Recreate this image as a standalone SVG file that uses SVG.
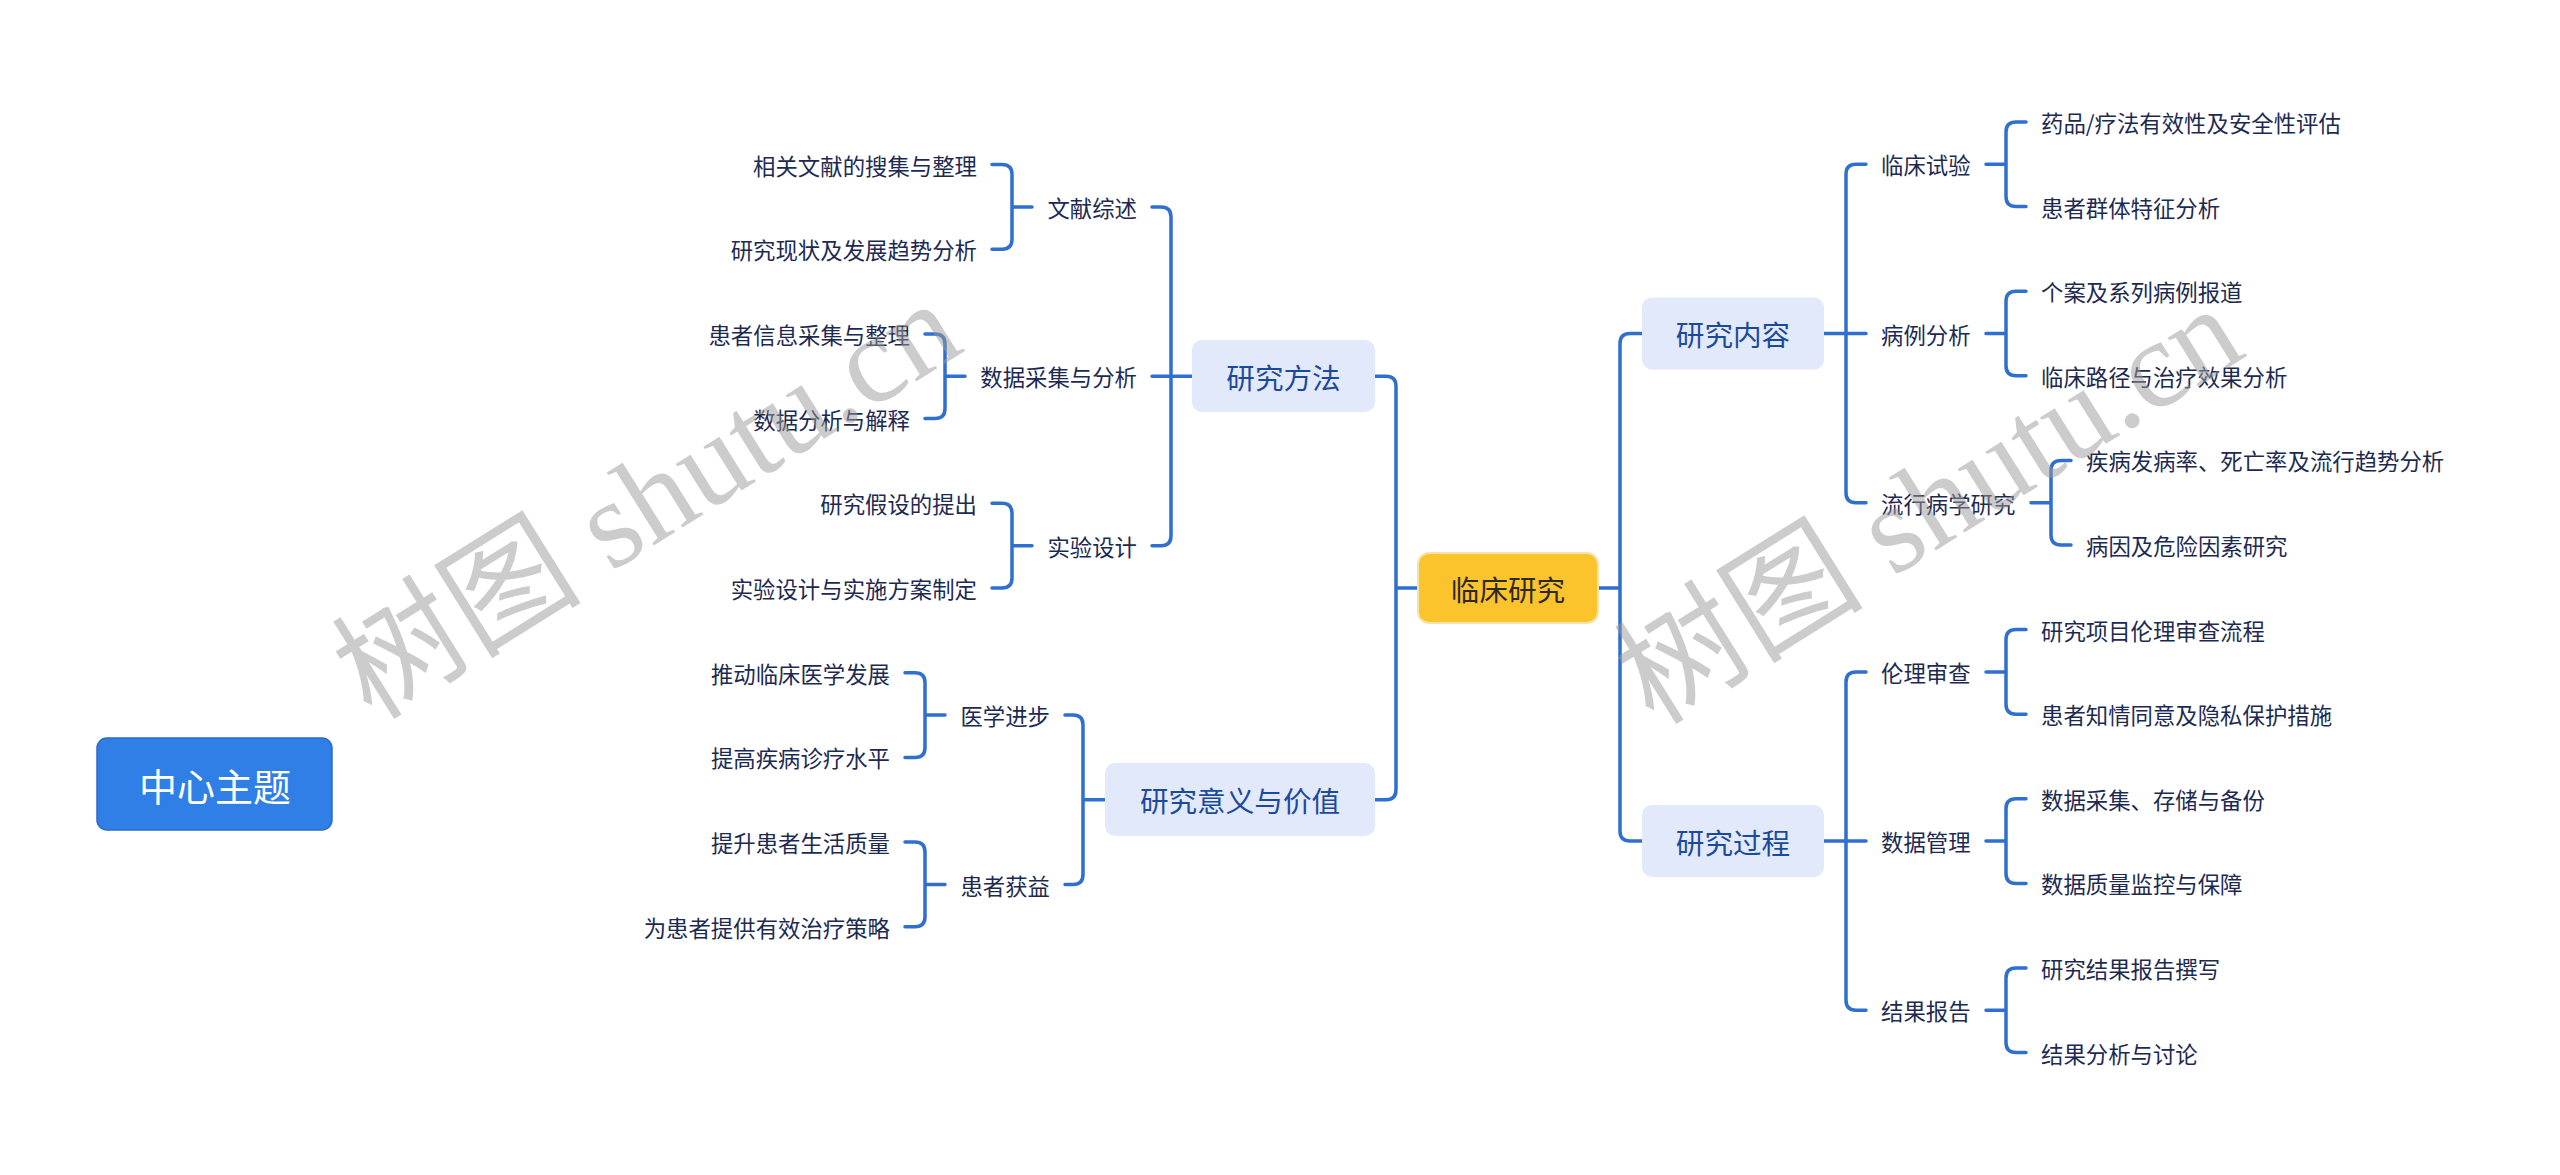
<svg xmlns="http://www.w3.org/2000/svg" width="2560" height="1175" viewBox="0 0 2560 1175">
<style>
.c{fill:none;stroke:#2F6FCF;stroke-width:3.5;stroke-linecap:round;stroke-linejoin:round}
.t{font-family:"Noto Sans CJK SC","Noto Sans",sans-serif;font-size:22.4px;fill:#1C2A52;dominant-baseline:central}
.e{text-anchor:end}
.b{fill:#E2E9FB}
.bt{font-family:"Noto Sans CJK SC","Noto Sans",sans-serif;font-size:28.6px;fill:#1B4A9C;dominant-baseline:central;text-anchor:middle}
.wm{font-family:"Liberation Serif","Noto Sans CJK SC",serif;font-size:125px;fill:#9a9a9a;opacity:0.5;text-anchor:middle;dominant-baseline:central}
</style>
<rect width="2560" height="1175" fill="#ffffff"/>
<g id="connectors">
<path class="c" d="M1418,588 H1396 M1375,376.3 H1386 Q1396,376.3 1396,386.3 V789.7 Q1396,799.7 1386,799.7 H1375"/>
<path class="c" d="M1598,588 H1620 M1642,333.5 H1630 Q1620,333.5 1620,343.5 V831.1 Q1620,841.1 1630,841.1 H1642"/>
<path class="c" d="M1192,376.3 H1152 M1152,206.9 H1161 Q1171,206.9 1171,216.9 V535.7 Q1171,545.7 1161,545.7 H1152"/>
<path class="c" d="M1032,206.9 H1012 M992,164.5 H1002 Q1012,164.5 1012,174.5 V239.2 Q1012,249.2 1002,249.2 H992"/>
<path class="c" d="M965,376.3 H945 M925,333.9 H935 Q945,333.9 945,343.9 V408.6 Q945,418.6 935,418.6 H925"/>
<path class="c" d="M1032,545.7 H1012 M992,503.3 H1002 Q1012,503.3 1012,513.3 V578 Q1012,588 1002,588 H992"/>
<path class="c" d="M1105,799.7 H1083 M1065,715 H1073 Q1083,715 1083,725 V874.5 Q1083,884.5 1073,884.5 H1065"/>
<path class="c" d="M945,715 H925 M905,672.7 H915 Q925,672.7 925,682.7 V747.4 Q925,757.4 915,757.4 H905"/>
<path class="c" d="M945,884.5 H925 M905,842.1 H915 Q925,842.1 925,852.1 V916.8 Q925,926.8 915,926.8 H905"/>
<path class="c" d="M1824,333.5 H1866 M1866,164.3 H1856 Q1846,164.3 1846,174.3 V492.7 Q1846,502.7 1856,502.7 H1866"/>
<path class="c" d="M1824,841.1 H1866 M1866,671.9 H1856 Q1846,671.9 1846,681.9 V1000.3 Q1846,1010.3 1856,1010.3 H1866"/>
<path class="c" d="M1986,164.3 H2006 M2026,122 H2016 Q2006,122 2006,132 V196.6 Q2006,206.6 2016,206.6 H2026"/>
<path class="c" d="M1986,333.5 H2006 M2026,291.2 H2016 Q2006,291.2 2006,301.2 V365.8 Q2006,375.8 2016,375.8 H2026"/>
<path class="c" d="M2031,502.7 H2051 M2071,460.4 H2061 Q2051,460.4 2051,470.4 V535 Q2051,545 2061,545 H2071"/>
<path class="c" d="M1986,671.9 H2006 M2026,629.6 H2016 Q2006,629.6 2006,639.6 V704.2 Q2006,714.2 2016,714.2 H2026"/>
<path class="c" d="M1986,841.1 H2006 M2026,798.8 H2016 Q2006,798.8 2006,808.8 V873.4 Q2006,883.4 2016,883.4 H2026"/>
<path class="c" d="M1986,1010.3 H2006 M2026,968 H2016 Q2006,968 2006,978 V1042.6 Q2006,1052.6 2016,1052.6 H2026"/>
</g>
<g id="n-main"><rect x="97" y="738" width="235" height="92" rx="10" fill="#2F7FE6" stroke="#2A6CC9" stroke-width="1.5"/><text x="215" y="784" font-family="Noto Sans CJK SC,sans-serif" font-size="38" fill="#ffffff" text-anchor="middle" dominant-baseline="central">中心主题</text></g>
<g id="n-root"><rect x="1418" y="553" width="180" height="70" rx="11" fill="#FBC42D" stroke="#F5E2AE" stroke-width="2"/><text x="1508" y="588" class="bt" style="fill:#2E2A20">临床研究</text></g>
<g id="n-ff"><rect class="b" x="1192" y="340" width="183" height="72" rx="10"/><text class="bt" x="1283.5" y="376.3">研究方法</text></g>
<g id="n-yy"><rect class="b" x="1105" y="763" width="270" height="73" rx="10"/><text class="bt" x="1240" y="799.7">研究意义与价值</text></g>
<g id="n-nr"><rect class="b" x="1642" y="297.5" width="182" height="72" rx="10"/><text class="bt" x="1733" y="333.5">研究内容</text></g>
<g id="n-gc"><rect class="b" x="1642" y="805" width="182" height="72" rx="10"/><text class="bt" x="1733" y="841.1">研究过程</text></g>
<g id="n-wx"><text class="t e" x="1137" y="206.9">文献综述</text></g>
<g id="n-wx1"><text class="t e" x="977" y="164.5">相关文献的搜集与整理</text></g>
<g id="n-wx2"><text class="t e" x="977" y="249.2">研究现状及发展趋势分析</text></g>
<g id="n-sj"><text class="t e" x="1137" y="376.3">数据采集与分析</text></g>
<g id="n-sj1"><text class="t e" x="910" y="333.9">患者信息采集与整理</text></g>
<g id="n-sj2"><text class="t e" x="910" y="418.6">数据分析与解释</text></g>
<g id="n-sy"><text class="t e" x="1137" y="545.7">实验设计</text></g>
<g id="n-sy1"><text class="t e" x="977" y="503.3">研究假设的提出</text></g>
<g id="n-sy2"><text class="t e" x="977" y="588">实验设计与实施方案制定</text></g>
<g id="n-yx"><text class="t e" x="1050" y="715">医学进步</text></g>
<g id="n-yx1"><text class="t e" x="890" y="672.7">推动临床医学发展</text></g>
<g id="n-yx2"><text class="t e" x="890" y="757.4">提高疾病诊疗水平</text></g>
<g id="n-hz"><text class="t e" x="1050" y="884.5">患者获益</text></g>
<g id="n-hz1"><text class="t e" x="890" y="842.1">提升患者生活质量</text></g>
<g id="n-hz2"><text class="t e" x="890" y="926.8">为患者提供有效治疗策略</text></g>
<g id="n-lc"><text class="t" x="1881" y="164.3">临床试验</text></g>
<g id="n-lc1"><text class="t" x="2041" y="122">药品/疗法有效性及安全性评估</text></g>
<g id="n-lc2"><text class="t" x="2041" y="206.6">患者群体特征分析</text></g>
<g id="n-bl"><text class="t" x="1881" y="333.5">病例分析</text></g>
<g id="n-bl1"><text class="t" x="2041" y="291.2">个案及系列病例报道</text></g>
<g id="n-bl2"><text class="t" x="2041" y="375.8">临床路径与治疗效果分析</text></g>
<g id="n-lx"><text class="t" x="1881" y="502.7">流行病学研究</text></g>
<g id="n-lx1"><text class="t" x="2086" y="460.4">疾病发病率、死亡率及流行趋势分析</text></g>
<g id="n-lx2"><text class="t" x="2086" y="545">病因及危险因素研究</text></g>
<g id="n-ll"><text class="t" x="1881" y="671.9">伦理审查</text></g>
<g id="n-ll1"><text class="t" x="2041" y="629.6">研究项目伦理审查流程</text></g>
<g id="n-ll2"><text class="t" x="2041" y="714.2">患者知情同意及隐私保护措施</text></g>
<g id="n-gl"><text class="t" x="1881" y="841.1">数据管理</text></g>
<g id="n-gl1"><text class="t" x="2041" y="798.8">数据采集、存储与备份</text></g>
<g id="n-gl2"><text class="t" x="2041" y="883.4">数据质量监控与保障</text></g>
<g id="n-jg"><text class="t" x="1881" y="1010.3">结果报告</text></g>
<g id="n-jg1"><text class="t" x="2041" y="968">研究结果报告撰写</text></g>
<g id="n-jg2"><text class="t" x="2041" y="1052.6">结果分析与讨论</text></g>
<g id="watermarks">
<text class="wm" transform="translate(647,500) rotate(-32)">树图 shutu.cn</text>
<text class="wm" transform="translate(1929,505) rotate(-32)">树图 shutu.cn</text>
</g>
</svg>
